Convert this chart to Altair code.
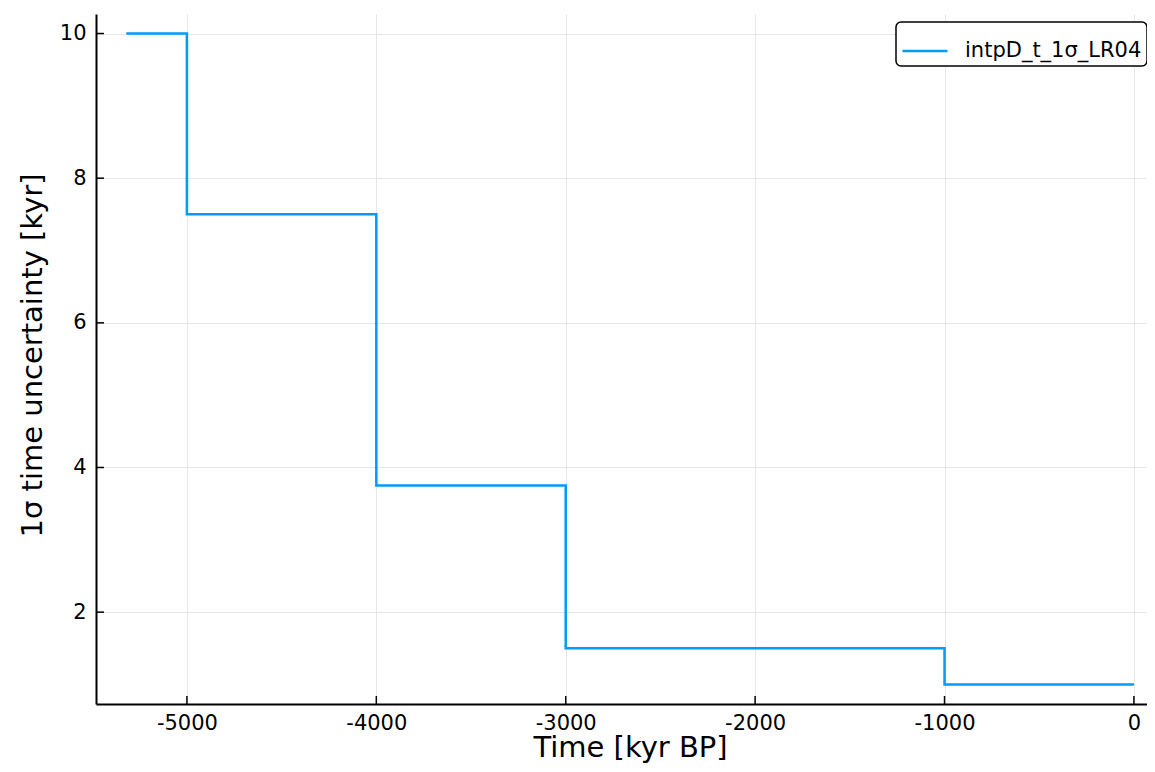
import altair as alt
import pandas as pd

# Data
time_kyr = [-5320, -5000, -4000, -3000, -1000, 0]
sigma_kyr = [10.0, 7.5, 3.75, 1.5, 1.0, 1.0]
series_name = "intpD_t_1σ_LR04"

x_ticks = [-5000, -4000, -3000, -2000, -1000, 0]
y_ticks = [2, 4, 6, 8, 10]

W, H = 1051, 690
FONT = "DejaVu Sans"
BLUE = "#009AFA"

df = pd.DataFrame({"t": time_kyr, "s": sigma_kyr, "series": [series_name] * len(time_kyr)})
dfx = pd.DataFrame({"t": x_ticks})
dfy = pd.DataFrame({"s": y_ticks})

xscale = alt.Scale(domain=[-5480, 69], nice=False, zero=False)
yscale = alt.Scale(domain=[0.73, 10.27], nice=False, zero=False)

xaxis = alt.Axis(
    values=x_ticks, labelExpr="'' + datum.value", ticks=False,
    grid=True, gridColor="#e6e6e6", gridWidth=1,
    domainColor="black", domainWidth=2,
    labelFont=FONT, labelFontSize=21, labelColor="black", labelPadding=8,
    title="Time [kyr BP]", titleFont=FONT, titleFontSize=29, titleFontWeight="normal",
    titleColor="black", titleX=534, titleY=52, titleAlign="center", titleBaseline="alphabetic",
)
yaxis = alt.Axis(
    values=y_ticks, labelExpr="'' + datum.value", ticks=False,
    grid=True, gridColor="#e6e6e6", gridWidth=1,
    domainColor="black", domainWidth=2,
    labelFont=FONT, labelFontSize=21, labelColor="black", labelPadding=10,
    title="1σ time uncertainty [kyr]", titleFont=FONT, titleFontSize=29, titleFontWeight="normal",
    titleColor="black", titleX=-55, titleY=341, titleAlign="center", titleBaseline="alphabetic",
)

line = alt.Chart(df).mark_line(interpolate="step-after", strokeWidth=2.5).encode(
    x=alt.X("t:Q", scale=xscale, axis=xaxis),
    y=alt.Y("s:Q", scale=yscale, axis=yaxis),
    color=alt.Color(
        "series:N",
        scale=alt.Scale(domain=[series_name], range=[BLUE]),
        legend=alt.Legend(
            title=None, orient="none", legendX=800, legendY=8, padding=5,
            strokeColor="black", cornerRadius=5, fillColor="white",
            labelFont=FONT, labelFontSize=21, labelColor="black", labelOffset=16,
            labelLimit=400,
            symbolType="stroke", symbolSize=2025, symbolStrokeWidth=2.5,
        ),
    ),
)

xticks_layer = alt.Chart(dfx).mark_rule(color="black", strokeWidth=1.5).encode(
    x=alt.X("t:Q", scale=xscale), y=alt.value(H), y2=alt.value(H - 8)
)
yticks_layer = alt.Chart(dfy).mark_rule(color="black", strokeWidth=1.5).encode(
    y=alt.Y("s:Q", scale=yscale), x=alt.value(0), x2=alt.value(8)
)

chart = alt.layer(line, xticks_layer, yticks_layer).properties(
    width=W, height=H,
    autosize="none",
    padding={"left": 88, "top": 6, "right": 0, "bottom": 60},
).configure_view(strokeWidth=0).configure_legend(strokeWidth=1.5)

chart.save("out.html", embed_options={"renderer": "svg", "actions": False})
